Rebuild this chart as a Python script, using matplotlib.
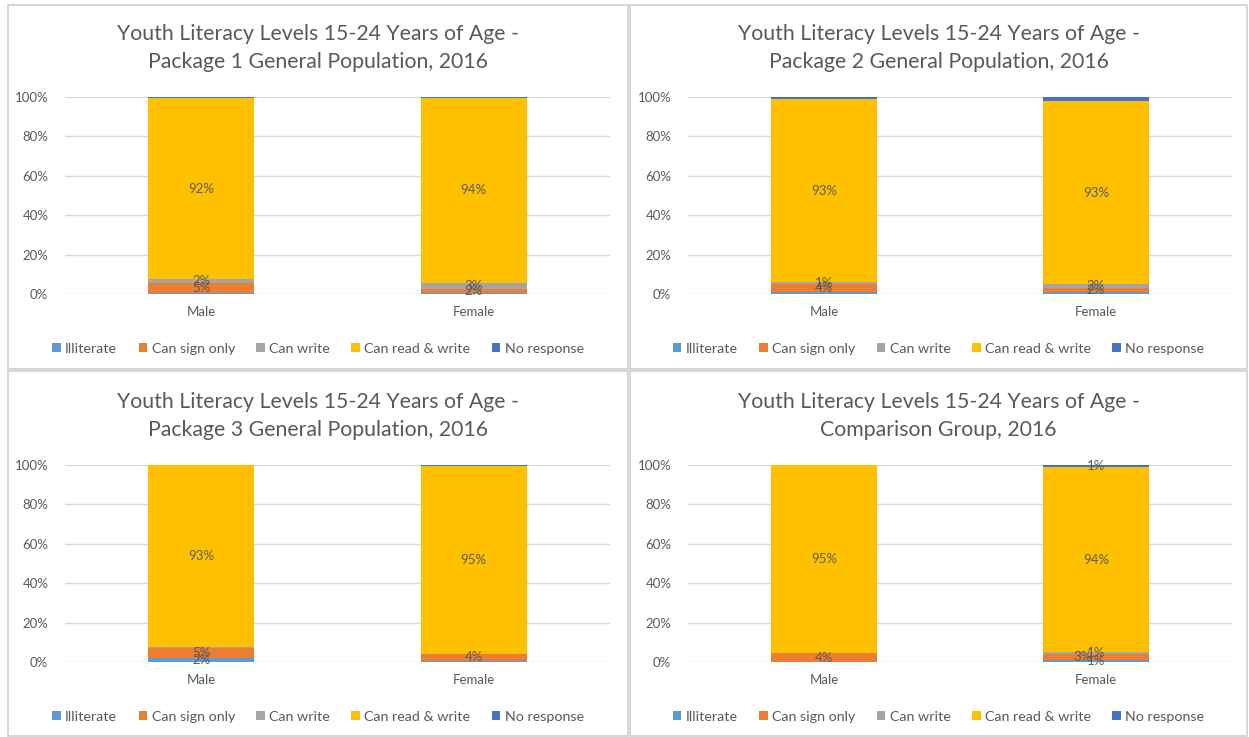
import matplotlib.pyplot as plt
from matplotlib.patches import Patch, Rectangle

plt.rcParams['font.family'] = ['Lato', 'DejaVu Sans']

W, H = 1249, 737

categories = ['Male', 'Female']
series = ['Illiterate', 'Can sign only', 'Can write', 'Can read & write', 'No response']
colors = ['#5B9BD5', '#ED7D31', '#A5A5A5', '#FFC000', '#4472C4']
y_ticks = [0, 20, 40, 60, 80, 100]
y_tick_labels = ['0%', '20%', '40%', '60%', '80%', '100%']

titles = [
    'Youth Literacy Levels 15-24 Years of Age -\nPackage 1 General Population, 2016',
    'Youth Literacy Levels 15-24 Years of Age -\nPackage 2 General Population, 2016',
    'Youth Literacy Levels 15-24 Years of Age -\nPackage 3 General Population, 2016',
    'Youth Literacy Levels 15-24 Years of Age -\nComparison Group, 2016',
]

# percent per series, [Male, Female]
illiterate = [[0.5, 0.7], [1.0, 1.0], [2.0, 0.3], [0.0, 1.0]]
can_sign = [[5.0, 2.0], [4.0, 2.0], [5.0, 4.0], [4.4, 3.0]]
can_write = [[2.0, 3.0], [1.0, 2.0], [0.4, 0.0], [0.4, 1.0]]
read_write = [[92.0, 94.0], [93.0, 93.0], [92.6, 95.0], [95.2, 94.0]]
no_response = [[0.5, 0.3], [1.0, 2.0], [0.0, 0.7], [0.0, 1.0]]

# which segments carry a data label, per chart: series index -> categories
labelled = [
    {1: [0, 1], 2: [0, 1], 3: [0, 1]},
    {1: [0, 1], 2: [0, 1], 3: [0, 1]},
    {0: [0], 1: [0, 1], 3: [0, 1]},
    {0: [1], 1: [0, 1], 2: [1], 3: [0, 1], 4: [1]},
]
# sideways nudge for crowded labels: (chart, series, category) -> x offset
nudge = {(3, 1, 1): -0.05}

# pixel geometry of each panel: frame box, plot area (left, right, top, bottom)
frames = [(8, 5, 628, 369), (630, 5, 1247, 369), (8, 371, 628, 736), (630, 371, 1247, 736)]
plots = [(65, 610, 97, 294), (688, 1232, 97, 294), (65, 610, 465, 662), (688, 1232, 465, 662)]

fig = plt.figure(figsize=(W / 100, H / 100), dpi=100)

for x0, y0, x1, y1 in frames:
    fig.patches.append(Rectangle((x0 / W, 1 - y1 / H), (x1 - x0) / W, (y1 - y0) / H,
                                 transform=fig.transFigure, fill=False,
                                 edgecolor='#D0D0D0', linewidth=1.2))

for i in range(4):
    left, right, top, bottom = plots[i]
    ax = fig.add_axes([left / W, 1 - bottom / H, (right - left) / W, (bottom - top) / H])
    stacks = [illiterate[i], can_sign[i], can_write[i], read_write[i], no_response[i]]
    base = [0.0, 0.0]
    x = [0, 1]
    for s, vals in enumerate(stacks):
        ax.bar(x, vals, bottom=base, width=0.39, color=colors[s], zorder=3)
        for c in labelled[i].get(s, []):
            ax.text(x[c] + nudge.get((i, s, c), 0), base[c] + vals[c] / 2, f'{round(vals[c])}%',
                    ha='center', va='center', fontsize=9.5, color='#5A5A5A', zorder=4)
        base = [base[k] + vals[k] for k in range(2)]

    ax.set_xlim(-0.5, 1.5)
    ax.set_ylim(0, 100)
    ax.set_yticks(y_ticks)
    ax.set_yticklabels(y_tick_labels)
    ax.set_xticks(x)
    ax.set_xticklabels(categories)
    ax.tick_params(length=0, labelsize=9.5, labelcolor='#595959')
    ax.tick_params(axis='x', pad=9)
    ax.tick_params(axis='y', pad=12)
    ax.grid(axis='y', color='#D9D9D9', linewidth=1, zorder=0)
    for sp in ax.spines.values():
        sp.set_visible(False)

    fx0, fy0, fx1, fy1 = frames[i]
    cx = (fx0 + fx1) / 2
    fig.text(cx / W, 1 - (top - 49) / H, titles[i], ha='center', va='center',
             fontsize=15.3, color='#595959', linespacing=1.55)

    handles = [Patch(facecolor=c) for c in colors]
    fig.legend(handles, series, loc='center', bbox_to_anchor=(cx / W, 1 - (bottom + 55) / H),
               ncol=5, frameon=False, fontsize=10.3, labelcolor='#595959',
               handlelength=0.6, handleheight=0.6, handletextpad=0.3, columnspacing=1.5)

fig.savefig('out.png', dpi=100, facecolor='white')
